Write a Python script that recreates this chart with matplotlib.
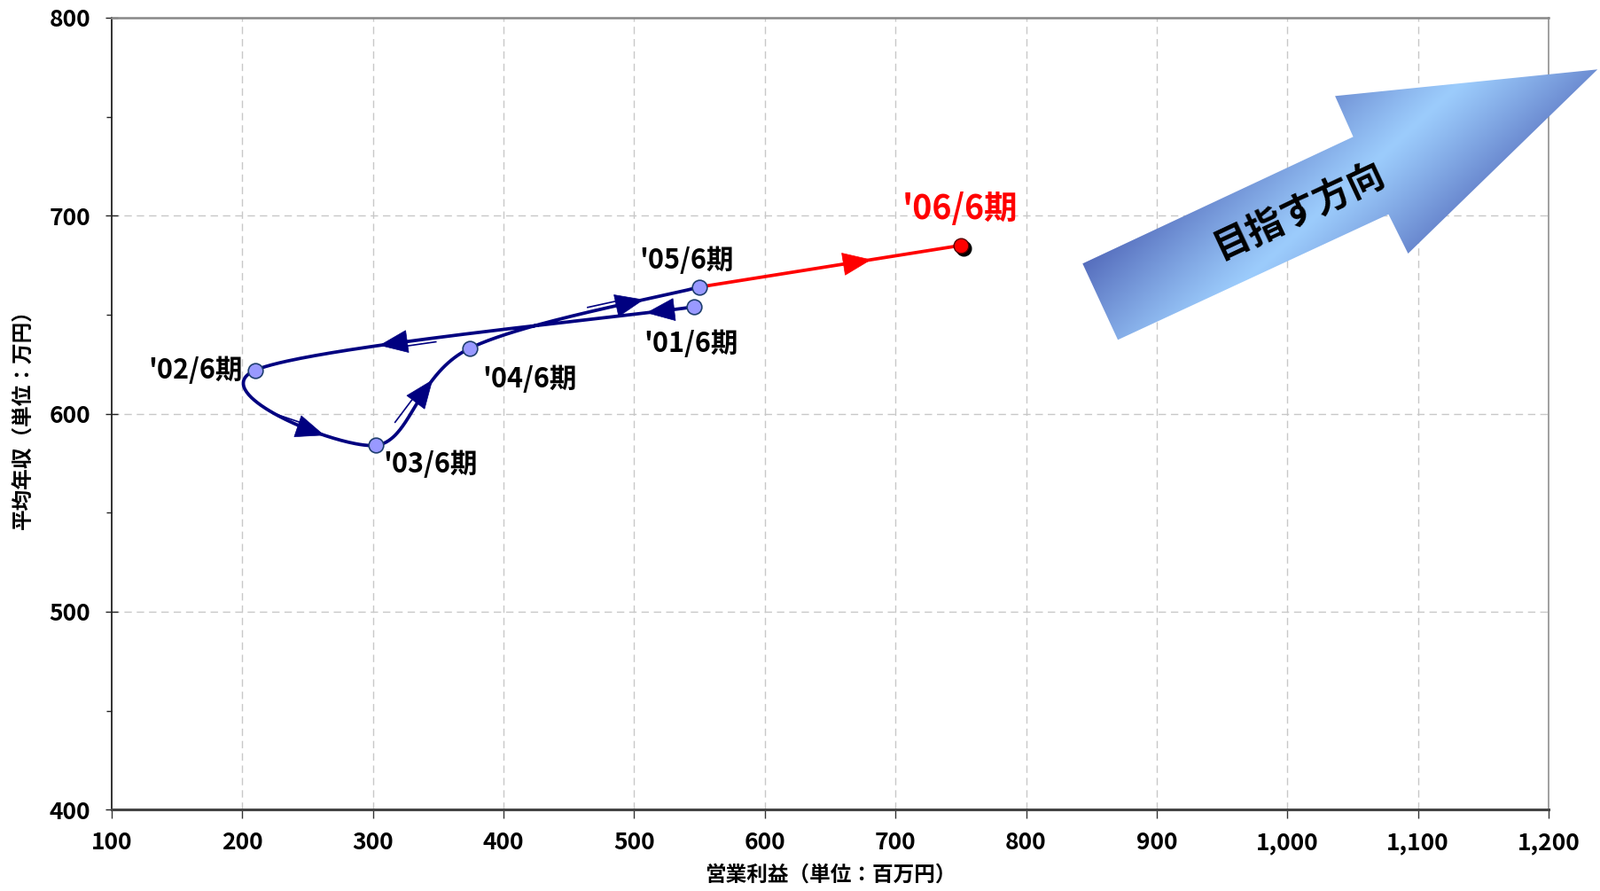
import numpy as np
import matplotlib
matplotlib.use('Agg')
import matplotlib.pyplot as plt
from matplotlib.patches import Polygon
from matplotlib.transforms import IdentityTransform, offset_copy

plt.rcParams['font.family'] = ['Noto Sans CJK JP', 'DejaVu Sans']

# ---------------- data ----------------
periods = ["'01/6期", "'02/6期", "'03/6期", "'04/6期", "'05/6期", "'06/6期"]
op_profit = [546, 210, 302, 374, 550, 750]        # 営業利益 (百万円)
avg_salary = [654, 622, 584, 633, 664, 685]       # 平均年収 (万円)

x_ticks = [100, 200, 300, 400, 500, 600, 700, 800, 900, 1000, 1100, 1200]
x_ticklabels = ['100', '200', '300', '400', '500', '600', '700', '800',
                '900', '1,000', '1,100', '1,200']
y_ticks = [400, 500, 600, 700, 800]
y_minor = [450, 550, 650, 750]

x_label = '営業利益（単位：百万円）'
y_label = '平均年収（単位：万円）'
goal_text = '目指す方向'

NAVY = '#000080'
RED = '#FF0000'

W, H = 1806, 1005
fig = plt.figure(figsize=(W / 100, H / 100), dpi=100)
L, R, T, B = 126, 1747, 20, 913.3
ax = fig.add_axes([L / W, 1 - B / H, (R - L) / W, (B - T) / H])
ax.set_xlim(100, 1200)
ax.set_ylim(400, 800)

# ticks
ax.set_xticks(x_ticks)
ax.set_xticklabels(x_ticklabels)
ax.set_yticks(y_ticks)
ax.set_yticks(y_minor, minor=True)
ax.tick_params(axis='x', direction='out', length=7, width=1, color='#333333',
               labelsize=19, pad=10)
ax.tick_params(axis='y', which='major', direction='inout', length=10, width=1,
               color='#222222', labelsize=19, pad=12)
ax.tick_params(axis='y', which='minor', direction='out', length=4.5, width=1,
               color='#222222')
for lab in ax.get_xticklabels() + ax.get_yticklabels():
    lab.set_fontweight('bold')

# grid
for xv in x_ticks[1:-1]:
    ax.axvline(xv, color='#C8C8C8', lw=1, ls=(0, (6, 4)), zorder=0)
for yv in y_ticks[1:-1]:
    ax.axhline(yv, color='#C8C8C8', lw=1, ls=(0, (6, 4)), zorder=0)

# spines
ax.spines['left'].set_color('#222222'); ax.spines['left'].set_linewidth(1.3)
ax.spines['bottom'].set_color('#444444'); ax.spines['bottom'].set_linewidth(2.2)
ax.spines['top'].set_color('#888888'); ax.spines['top'].set_linewidth(1.8)
ax.spines['right'].set_color('#999999'); ax.spines['right'].set_linewidth(1.3)

ax.set_xlabel(x_label, fontsize=17, fontweight='bold', labelpad=8)
ax.set_ylabel(y_label, fontsize=17, fontweight='bold', labelpad=13)

# ---------------- smoothed path (Excel-like) ----------------
def smooth_segments(xs, ys):
    P = np.column_stack([xs, ys]).astype(float)
    n = len(P)
    segs = []
    for i in range(n - 1):
        p0 = P[i - 1] if i > 0 else P[i]
        p1, p2 = P[i], P[i + 1]
        p3 = P[i + 2] if i + 2 < n else P[i + 1]
        segs.append((p1, p1 + (p2 - p0) / 6, p2 - (p3 - p1) / 6, p2))
    return segs

def bez(seg, t):
    p0, c1, c2, p3 = seg
    t = np.atleast_1d(t)[:, None]
    return ((1 - t) ** 3) * p0 + 3 * ((1 - t) ** 2) * t * c1 + 3 * (1 - t) * t ** 2 * c2 + t ** 3 * p3

navy_segs = smooth_segments(op_profit[:5], avg_salary[:5])
tt = np.linspace(0, 1, 80)
curve = np.vstack([bez(s, tt) for s in navy_segs])
ax.plot(curve[:, 0], curve[:, 1], color=NAVY, lw=2.7, zorder=3, solid_capstyle='round')

p_a = np.array([op_profit[4], avg_salary[4]], float)
p_b = np.array([op_profit[5], avg_salary[5]], float)
red_seg = (p_a, p_a * 2 / 3 + p_b / 3, p_a / 3 + p_b * 2 / 3, p_b)
red_curve = bez(red_seg, tt)
ax.plot(red_curve[:, 0], red_curve[:, 1], color=RED, lw=2.7, zorder=3)

# ---------------- direction arrowheads ----------------
def arrowhead(seg, t, color, shaft=True):
    p = bez(seg, t)[0]
    q = bez(seg, t - 0.01)[0]
    tip = ax.transData.transform(p)
    prev = ax.transData.transform(q)
    d = tip - prev
    d = d / np.hypot(*d)
    perp = np.array([-d[1], d[0]])
    Lh, Wh = 31, 25
    base = tip - d * Lh
    tri = np.array([tip, base + perp * Wh / 2, base - perp * Wh / 2])
    ax.add_patch(Polygon(tri, closed=True, transform=IdentityTransform(),
                         facecolor=color, edgecolor=color, lw=0.5, zorder=4))
    if shaft:
        a = base + d * 8 + perp * 5
        b = base - d * 32 + perp * 5
        ax.plot([a[0], b[0]], [a[1], b[1]], transform=IdentityTransform(),
                color=color, lw=1.2, zorder=4)

fig.canvas.draw()
arrowhead(navy_segs[0], 0.15, NAVY, shaft=False)
arrowhead(navy_segs[0], 0.66, NAVY)
arrowhead(navy_segs[1], 0.70, NAVY)
arrowhead(navy_segs[2], 0.70, NAVY)
arrowhead(navy_segs[3], 0.70, NAVY)
arrowhead(red_seg, 0.655, RED, shaft=False)

# ---------------- markers ----------------
ax.plot(op_profit[:5], avg_salary[:5], 'o', ms=12, mfc='#9999FF', mec='#1F3F6F',
        mew=1.2, zorder=5)
shadow = offset_copy(ax.transData, fig=fig, x=3, y=-3, units='dots')
ax.plot([op_profit[5]], [avg_salary[5]], 'o', ms=12, mfc='black', mec='black',
        transform=shadow, zorder=5)
ax.plot([op_profit[5]], [avg_salary[5]], 'o', ms=12, mfc=RED, mec='#550000',
        mew=1.0, zorder=6)

# ---------------- labels ----------------
label_offsets = [(-57, -42, 'left'), (-14, 0, 'right'), (9, -22, 'left'),
                 (14, -35, 'left'), (-68, 30, 'left'), (-66, 41, 'left')]
for i, (name, xv, yv) in enumerate(zip(periods, op_profit, avg_salary)):
    dx, dy, ha = label_offsets[i]
    is_last = i == len(periods) - 1
    ax.annotate(name, (xv, yv), xytext=(dx, dy), textcoords='offset pixels',
                ha=ha, va='center', fontsize=27 if is_last else 22,
                fontweight='bold', color=RED if is_last else 'black', zorder=7)

# ---------------- big gradient arrow ----------------
ov = fig.add_axes([0, 0, 1, 1], zorder=5)
ov.set_xlim(0, W)
ov.set_ylim(H, 0)
ov.axis('off')
ov.patch.set_alpha(0)

tail_top = np.array([1221.3, 297.3])
tail_bot = np.array([1261.1, 383.3])
shaft_top = np.array([1526.6, 154.3])
head_top = np.array([1506.1, 108.3])
tip = np.array([1802.2, 78.3])
head_bot = np.array([1588.5, 286.0])
shaft_bot = np.array([1566.4, 241.7])
poly_pts = np.array([tail_top, shaft_top, head_top, tip, head_bot, shaft_bot, tail_bot])
poly = Polygon(poly_pts, closed=True, transform=ov.transData, facecolor='none',
               edgecolor='none')
ov.add_patch(poly)

tail_mid = (tail_top + tail_bot) / 2
axis_v = tip - tail_mid
alen = np.hypot(*axis_v)
dvec = axis_v / alen
pvec = np.array([-dvec[1], dvec[0]])
if pvec[1] < 0:
    pvec = -pvec
head_w = np.hypot(*(head_bot - head_top))

x0, x1, y0, y1 = 1210, 1806, 65, 395
gx, gy = np.meshgrid(np.linspace(x0, x1, 600), np.linspace(y0, y1, 340))
rel_x = gx - tail_mid[0]
rel_y = gy - tail_mid[1]
u = (rel_x * dvec[0] + rel_y * dvec[1]) / alen
v = (rel_x * pvec[0] + rel_y * pvec[1]) / head_w + 0.5
val = np.clip(np.abs(u + v - 1), 0, 1) ** 1.1
light = np.array([0x9C, 0xCC, 0xFC]) / 255
dark = np.array([0x3A, 0x48, 0xA4]) / 255
img = light[None, None, :] + (dark - light)[None, None, :] * val[..., None]
im = ov.imshow(np.clip(img, 0, 1), extent=(x0, x1, y1, y0), origin='upper',
               interpolation='bilinear', zorder=1, aspect='auto')
im.set_clip_path(poly)

angle = np.degrees(np.arctan2(-dvec[1], dvec[0]))
ov.text(1465, 238, goal_text, rotation=angle, rotation_mode='anchor',
        ha='center', va='center', fontsize=30, fontweight='bold', color='black',
        zorder=3)
ov.set_xlim(0, W)
ov.set_ylim(H, 0)

fig.savefig('out.png', dpi=100)
